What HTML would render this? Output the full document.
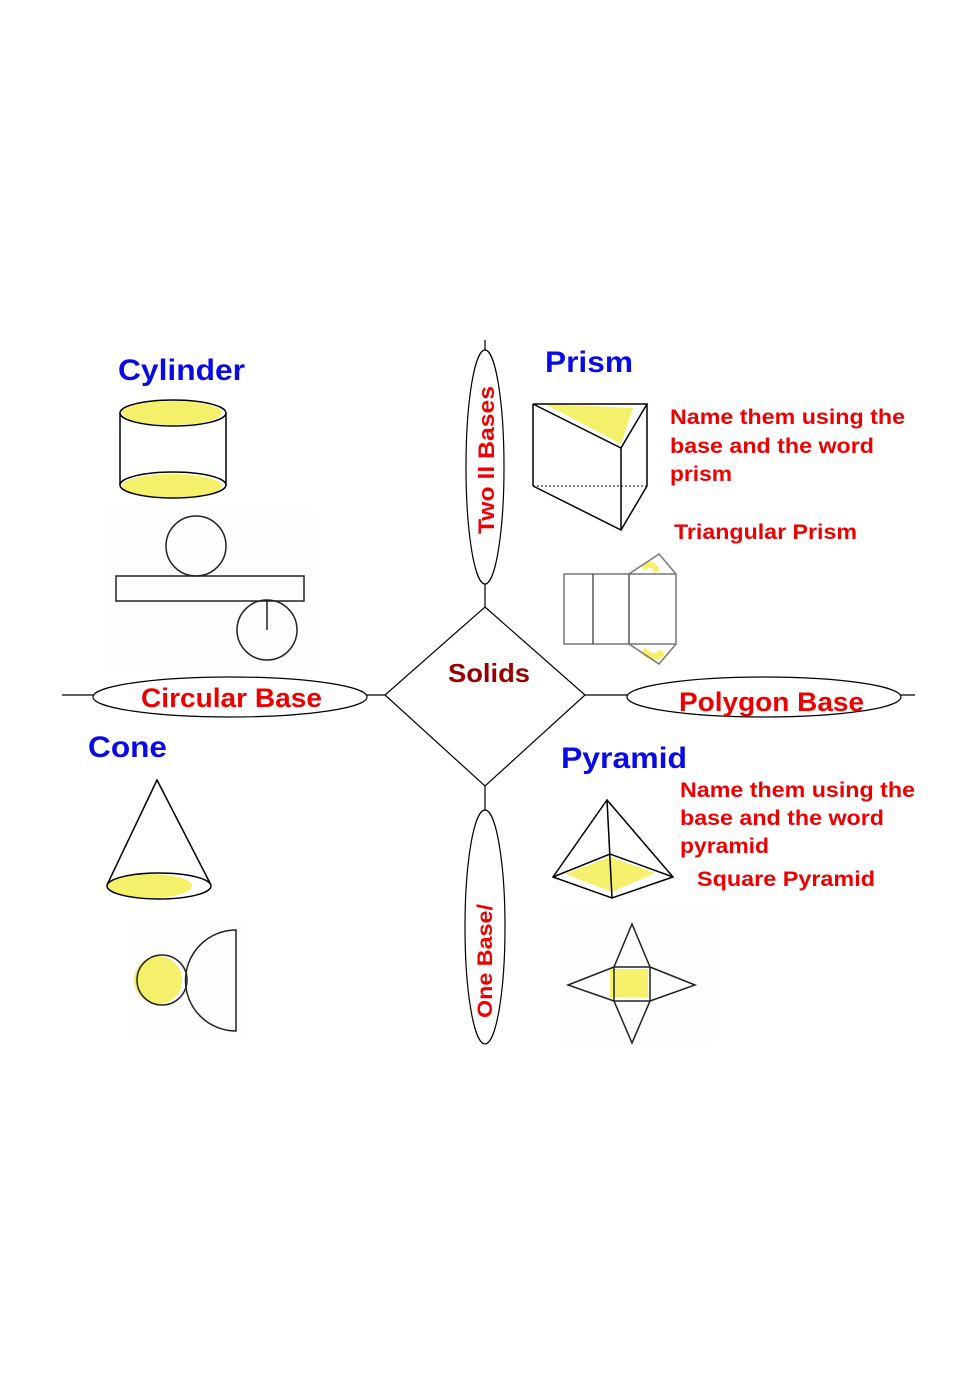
<!DOCTYPE html>
<html><head><meta charset="utf-8"><style>
html,body{margin:0;padding:0;background:#fff}
svg{display:block}
text{font-family:"Liberation Sans",Arial,sans-serif;font-weight:bold}
</style></head><body>
<svg width="978" height="1384" viewBox="0 0 978 1384" xmlns="http://www.w3.org/2000/svg">
<rect width="978" height="1384" fill="#fff"/>
<g stroke="#000" stroke-width="1.2" fill="none">
<line x1="62" y1="695" x2="385" y2="695"/>
<line x1="585" y1="695" x2="915" y2="695"/>
<line x1="485" y1="340" x2="485" y2="607"/>
<line x1="485" y1="786" x2="485" y2="1043"/>
<polygon points="485,607 585,695 485,786 385,695" fill="#fff"/>
<ellipse cx="485" cy="467" rx="19" ry="117" fill="#fff"/>
<ellipse cx="485" cy="927" rx="20" ry="117" fill="#fff"/>
<ellipse cx="230" cy="697" rx="137" ry="20" fill="#fff"/>
<ellipse cx="764" cy="697" rx="137" ry="20" fill="#fff"/>
</g>
<text x="448" y="682" font-size="26" fill="#990000" textLength="82" lengthAdjust="spacingAndGlyphs">Solids</text>
<text x="141" y="707" font-size="27" fill="#ee0000" textLength="181" lengthAdjust="spacingAndGlyphs">Circular Base</text>
<text x="679" y="711" font-size="27" fill="#ee0000" textLength="185" lengthAdjust="spacingAndGlyphs">Polygon Base</text>
<text transform="translate(494,534) rotate(-90)" font-size="22" fill="#ee0000" textLength="148" lengthAdjust="spacingAndGlyphs">Two ll Bases</text>
<text transform="translate(492,1018) rotate(-90)" font-size="21" fill="#ee0000" textLength="114" lengthAdjust="spacingAndGlyphs">One Base/</text>

<text x="118" y="380" font-size="30" fill="#0a0ae6" textLength="127" lengthAdjust="spacingAndGlyphs">Cylinder</text>
<text x="545" y="372" font-size="30" fill="#0a0ae6" textLength="88" lengthAdjust="spacingAndGlyphs">Prism</text>
<text x="88" y="757" font-size="30" fill="#0a0ae6" textLength="79" lengthAdjust="spacingAndGlyphs">Cone</text>
<text x="561" y="768" font-size="30" fill="#0a0ae6" textLength="126" lengthAdjust="spacingAndGlyphs">Pyramid</text>

<g font-size="21" fill="#ee0000">
<text x="670" y="424" textLength="235" lengthAdjust="spacingAndGlyphs">Name them using the</text>
<text x="670" y="453" textLength="204" lengthAdjust="spacingAndGlyphs">base and the word</text>
<text x="670" y="481" textLength="62" lengthAdjust="spacingAndGlyphs">prism</text>
<text x="674" y="539" textLength="183" lengthAdjust="spacingAndGlyphs">Triangular Prism</text>
<text x="680" y="797" textLength="235" lengthAdjust="spacingAndGlyphs">Name them using the</text>
<text x="680" y="825" textLength="204" lengthAdjust="spacingAndGlyphs">base and the word</text>
<text x="680" y="853" textLength="89" lengthAdjust="spacingAndGlyphs">pyramid</text>
<text x="697" y="886" textLength="178" lengthAdjust="spacingAndGlyphs">Square Pyramid</text>
</g>

<!-- cylinder -->
<ellipse cx="172" cy="413" rx="50" ry="12" fill="#f5f06a"/>
<ellipse cx="172" cy="486" rx="50" ry="12" fill="#f5f06a"/>
<g stroke="#000" stroke-width="1.5" fill="none">
<ellipse cx="173" cy="413" rx="53" ry="13"/>
<ellipse cx="173" cy="485" rx="53" ry="13"/>
<line x1="120" y1="413" x2="120" y2="485"/>
<line x1="226" y1="413" x2="226" y2="485"/>
</g>
<rect x="105" y="510" width="210" height="158" fill="#fdfdfd"/>
<g stroke="#222" stroke-width="1.5" fill="none">
<circle cx="196" cy="546" r="30"/>
<rect x="116" y="576" width="188" height="25"/>
<circle cx="267" cy="630" r="30"/>
<line x1="267" y1="601" x2="267" y2="630"/>
</g>

<!-- prism -->
<polygon points="545,404 633,408 621,444" fill="#f5f06a"/>
<g stroke="#000" stroke-width="1.5" fill="none">
<polygon points="533,404 647,404 621,448"/>
<line x1="533" y1="404" x2="533" y2="486"/>
<line x1="621" y1="448" x2="621" y2="530"/>
<line x1="647" y1="404" x2="647" y2="486"/>
<polyline points="533,486 621,530 647,486"/>
<line x1="533" y1="486" x2="647" y2="486" stroke-dasharray="2,2" stroke-width="1"/>
</g>
<path d="M643,568 q10,-8 14,4" stroke="#f5f06a" stroke-width="6" fill="none"/>
<path d="M643,650 q10,12 20,2" stroke="#f5f06a" stroke-width="7" fill="none"/>
<g stroke="#777" stroke-width="1.5" fill="none">
<rect x="564" y="574" width="112" height="70"/>
<line x1="593" y1="574" x2="593" y2="644" stroke="#555"/>
<line x1="629" y1="574" x2="629" y2="644" stroke="#555"/>
<polyline points="629,574 659,554 676,574"/>
<polyline points="629,644 659,664 676,644"/>
</g>

<!-- cone -->
<ellipse cx="150" cy="886" rx="42" ry="12" fill="#f5f06a"/>
<g stroke="#000" stroke-width="1.5" fill="none">
<polyline points="107,885 157,780 211,885"/>
<ellipse cx="159" cy="886" rx="52" ry="13"/>
</g>
<rect x="130" y="925" width="115" height="115" fill="#fdfdfd"/>
<circle cx="158" cy="980" r="24" fill="#f5f06a"/>
<g stroke="#222" stroke-width="1.5" fill="none">
<circle cx="162" cy="980" r="25"/>
<path d="M236,930 A50,50 0 0 0 236,1031 Z"/>
</g>

<!-- pyramid -->
<polygon points="565,874 610,857 655,873 612,892" fill="#f5f06a"/>
<g stroke="#000" stroke-width="1.5" fill="none">
<polygon points="553,877 612,898 673,877 607,800"/>
<polyline points="553,877 610,854 673,877"/>
<line x1="607" y1="800" x2="612" y2="898"/>
<line x1="607" y1="800" x2="610" y2="854" stroke-dasharray="2,2" stroke-width="1"/>
</g>
<rect x="563" y="903" width="150" height="140" fill="#fdfdfd"/>
<rect x="610" y="969" width="38" height="28" fill="#f5f06a"/>
<g stroke="#222" stroke-width="1.5" fill="none">
<rect x="614" y="967" width="36" height="34"/>
<polyline points="614,967 632,924 650,967"/>
<polyline points="614,1001 632,1043 650,1001"/>
<polyline points="614,967 568,985 614,1001"/>
<polyline points="650,967 695,985 650,1001"/>
</g>
</svg>
</body></html>
